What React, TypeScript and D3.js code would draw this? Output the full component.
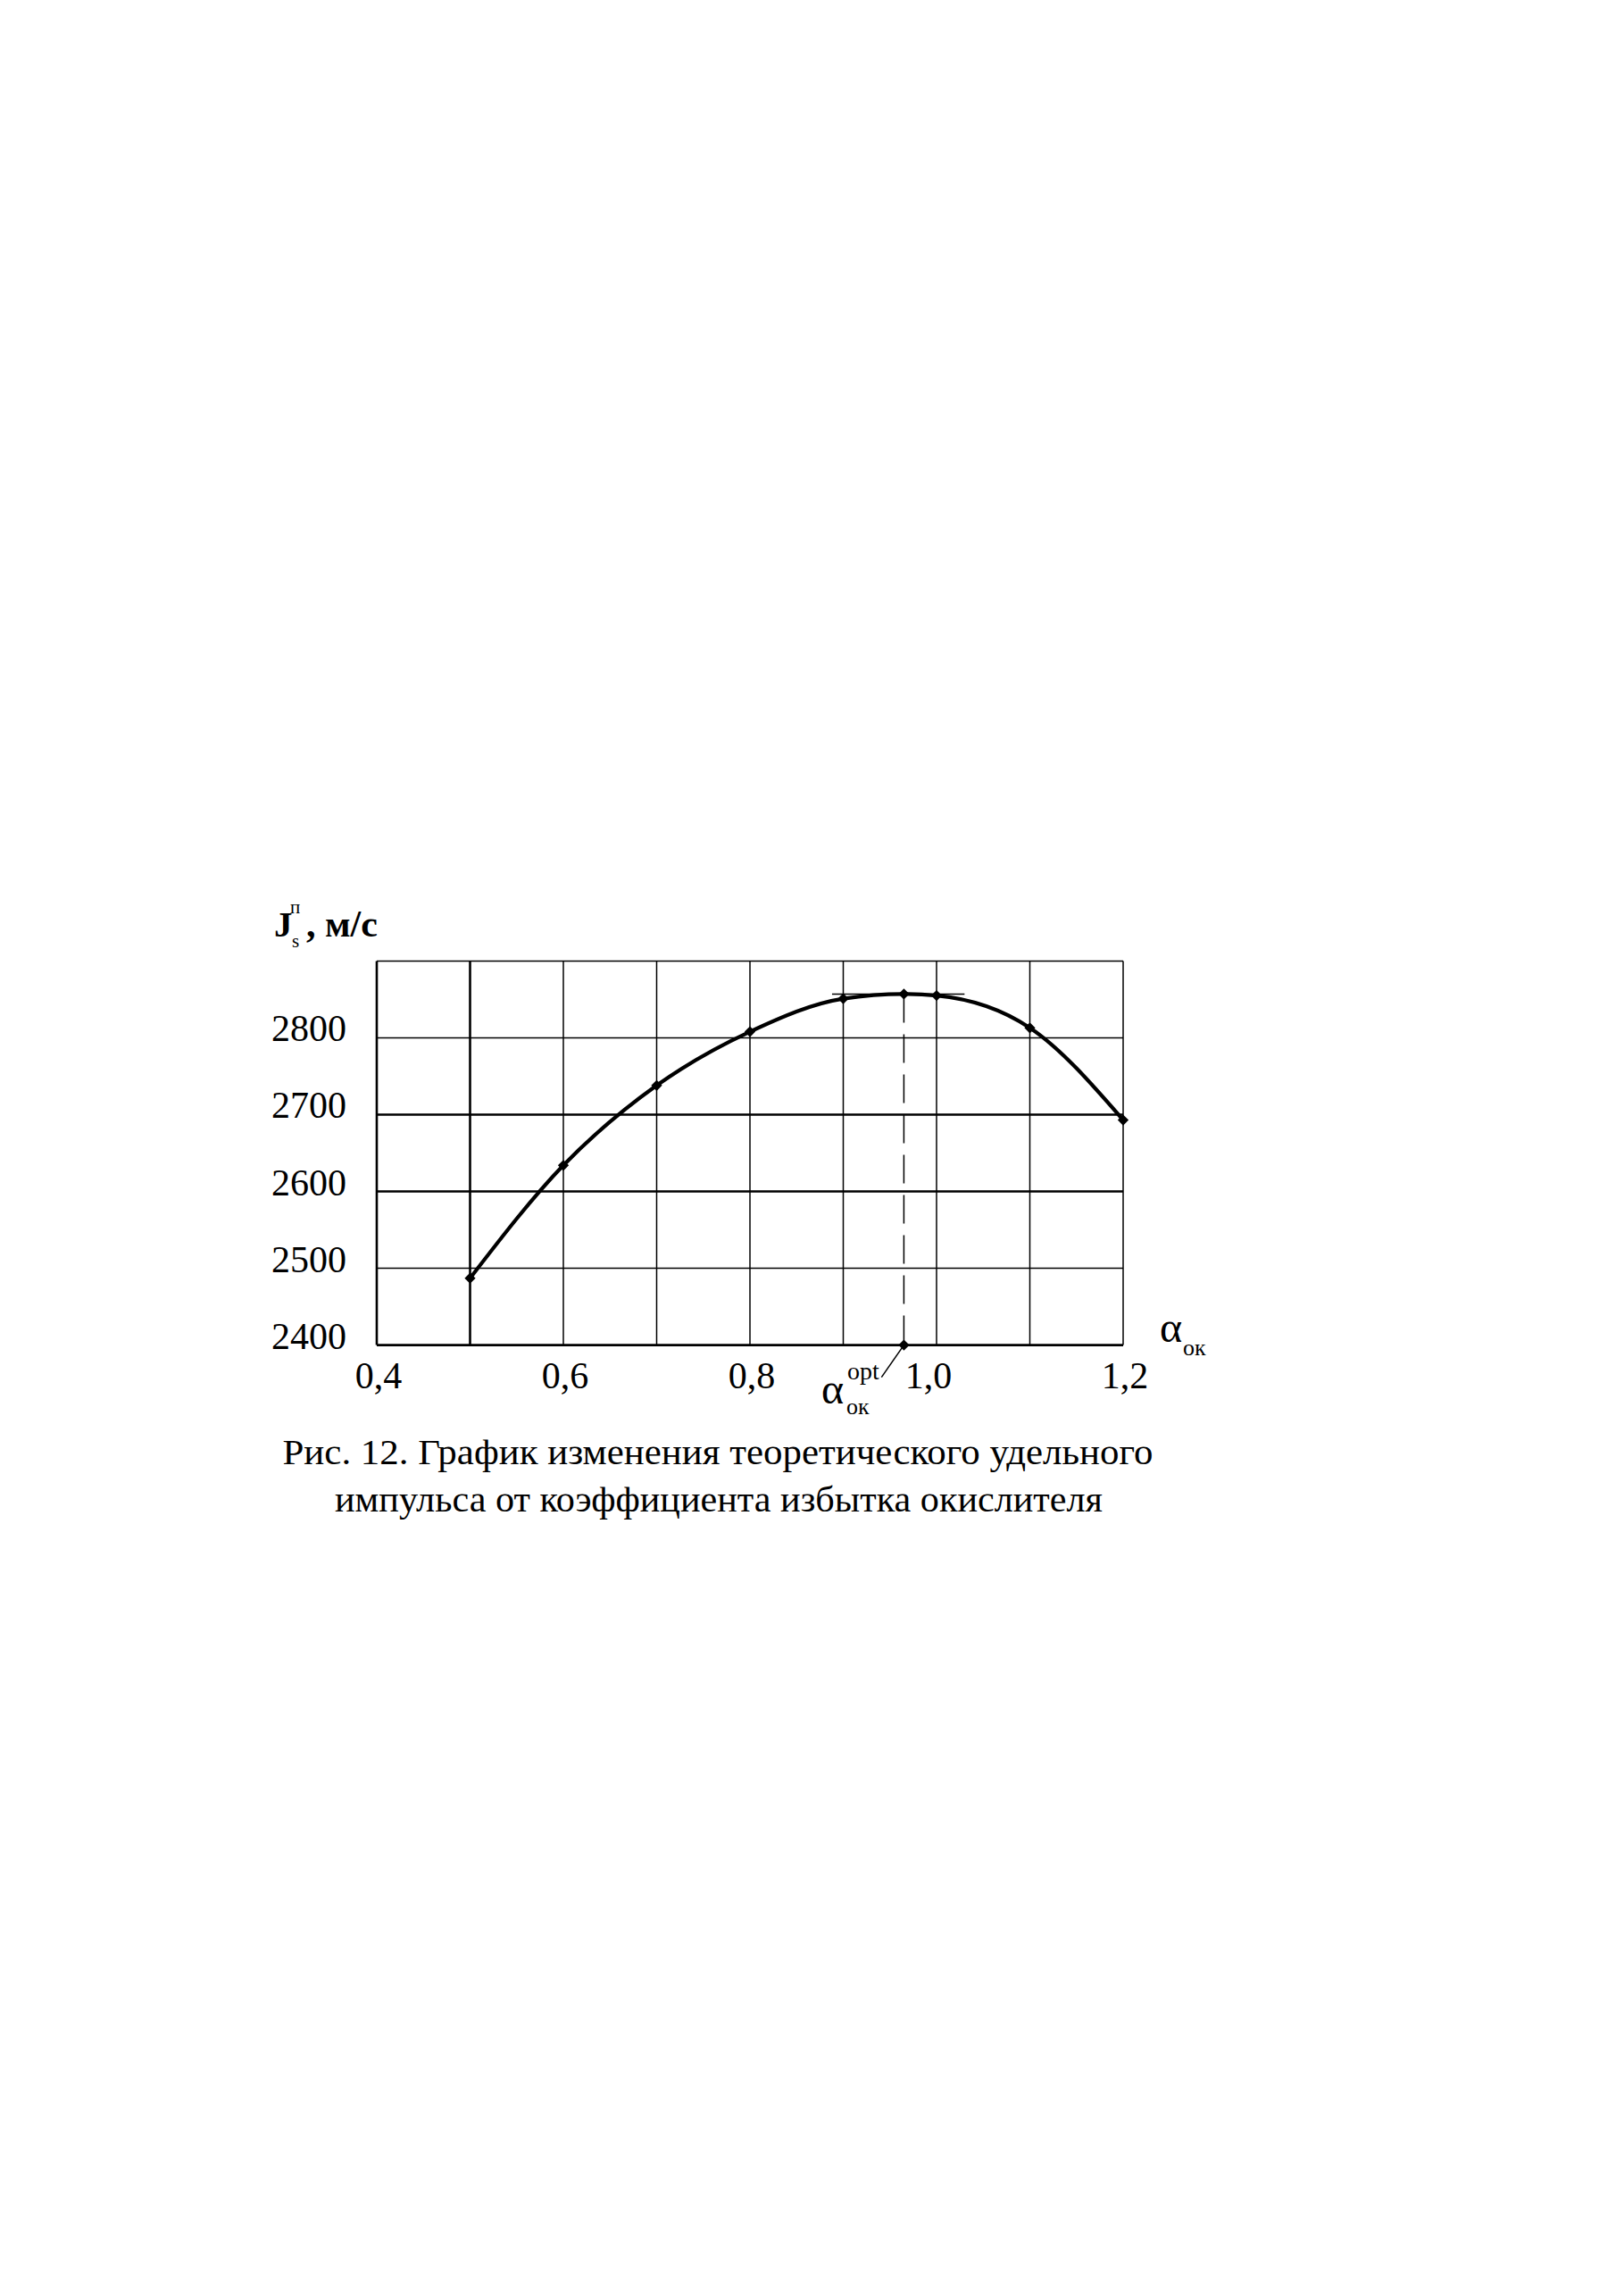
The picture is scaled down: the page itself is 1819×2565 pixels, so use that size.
import React from "react";
import * as d3 from "d3";

// Data
const alphaValues = [0.5, 0.6, 0.7, 0.8, 0.9, 0.965, 1.0, 1.1, 1.2];
const impulseValues = [2487, 2634, 2738, 2808, 2851, 2857, 2855, 2813, 2693];
const alphaOpt = 0.965;
const impulseMax = 2857;
const tangentRange = [0.888, 1.03];
const xTicks = [0.4, 0.6, 0.8, 1.0, 1.2];
const xTickLabels = ["0,4", "0,6", "0,8", "1,0", "1,2"];
const yTicks = [2400, 2500, 2600, 2700, 2800];
const yTickLabels = ["2400", "2500", "2600", "2700", "2800"];
const xGrid = [0.5, 0.6, 0.7, 0.8, 0.9, 1.0, 1.1];
const yGrid = [2500, 2600, 2700, 2800];
const xGridThick = [0.5];
const yGridThick = [2600, 2700];
const captionLines = [
  "Рис. 12. График изменения теоретического удельного",
  "импульса от коэффициента избытка окислителя",
];

const W = 1819;
const H = 2565;
const FONT = "'Liberation Serif', 'Times New Roman', serif";

export default function App() {
  const x = d3.scaleLinear().domain([0.4, 1.2]).range([422, 1258]);
  const y = d3.scaleLinear().domain([2400, 2900]).range([1506.6, 1076.4]);
  const [x0, x1] = x.range();
  const [y0, y1] = y.range();

  const pts = alphaValues.map((a, i) => [a, impulseValues[i]] as [number, number]);
  const line = d3
    .line<[number, number]>()
    .x((d) => x(d[0]))
    .y((d) => y(d[1]))
    .curve(d3.curveMonotoneX);

  const diamond = d3.symbol().type(d3.symbolSquare).size(75)();

  const thin = 1.5;
  const thick = 2.6;

  return (
    <svg
      width={W}
      height={H}
      style={{ position: "absolute", left: 0, top: 0, background: "#fff" }}
      fontFamily={FONT}
    >
      <rect x={0} y={0} width={W} height={H} fill="#fff" />
      {/* vertical grid */}
      {xGrid.map((g) => (
        <line
          key={"vx" + g}
          x1={x(g)}
          x2={x(g)}
          y1={y1}
          y2={y0}
          stroke="#000"
          strokeWidth={xGridThick.includes(g) ? thick : thin}
        />
      ))}
      {/* horizontal grid */}
      {yGrid.map((g) => (
        <line
          key={"hy" + g}
          x1={x0}
          x2={x1}
          y1={y(g)}
          y2={y(g)}
          stroke="#000"
          strokeWidth={yGridThick.includes(g) ? thick : thin}
        />
      ))}
      {/* frame */}
      <line x1={x0} x2={x1} y1={y1} y2={y1} stroke="#000" strokeWidth={thin} />
      <line x1={x1} x2={x1} y1={y1} y2={y0} stroke="#000" strokeWidth={thin} />
      <line x1={x0} x2={x1} y1={y0} y2={y0} stroke="#000" strokeWidth={thick} />
      <line x1={x0} x2={x0} y1={y1} y2={y0} stroke="#000" strokeWidth={thick} />

      {/* dashed optimum line */}
      <line
        x1={x(alphaOpt)}
        x2={x(alphaOpt)}
        y1={y(impulseMax)}
        y2={y0}
        stroke="#000"
        strokeWidth={thin}
        strokeDasharray="32 13"
      />
      {/* tangent line */}
      <line
        x1={x(tangentRange[0])}
        x2={x(tangentRange[1])}
        y1={y(impulseMax)}
        y2={y(impulseMax)}
        stroke="#000"
        strokeWidth={thin}
      />
      {/* pointer */}
      <line
        x1={x(alphaOpt)}
        y1={y0}
        x2={x(0.941)}
        y2={y0 + 36}
        stroke="#000"
        strokeWidth={thin}
      />

      {/* curve */}
      <path d={line(pts) || ""} fill="none" stroke="#000" strokeWidth={4.2} strokeLinejoin="round" />
      {pts.map((p, i) => (
        <path
          key={"m" + i}
          d={diamond || ""}
          transform={`translate(${x(p[0])},${y(p[1])}) rotate(45)`}
          fill="#000"
        />
      ))}
      <path d={diamond || ""} transform={`translate(${x(alphaOpt)},${y0}) rotate(45)`} fill="#000" />

      {/* y tick labels */}
      {yTicks.map((t, i) => (
        <text key={"yt" + t} x={388} y={y(t) + 4} fontSize={42} textAnchor="end">
          {yTickLabels[i]}
        </text>
      ))}
      {/* x tick labels */}
      {xTicks.map((t, i) => (
        <text
          key={"xt" + t}
          x={x(t) + (t === 1.0 ? -9 : 2)}
          y={y0 + 48}
          fontSize={42}
          textAnchor="middle"
        >
          {xTickLabels[i]}
        </text>
      ))}

      {/* y axis title */}
      <text x={307} y={1049} fontSize={41} fontWeight="bold">J</text>
      <text x={325} y={1023} fontSize={21}>п</text>
      <text x={327} y={1061} fontSize={21}>s</text>
      <text x={343} y={1049} fontSize={42} fontWeight="bold">, м/с</text>

      {/* x axis title */}
      <text x={1299} y={1503} fontSize={48}>α</text>
      <text x={1325} y={1518} fontSize={26}>ок</text>

      {/* alpha opt label */}
      <text x={920} y={1572} fontSize={48}>α</text>
      <text x={949} y={1545} fontSize={28}>opt</text>
      <text x={948} y={1584} fontSize={26}>ок</text>

      {/* caption */}
      <text
        x={804}
        y={1640}
        fontSize={41}
        textAnchor="middle"
        textLength={975}
        lengthAdjust="spacingAndGlyphs"
      >
        {captionLines[0]}
      </text>
      <text
        x={805}
        y={1693}
        fontSize={41}
        textAnchor="middle"
        textLength={860}
        lengthAdjust="spacingAndGlyphs"
      >
        {captionLines[1]}
      </text>
    </svg>
  );
}
